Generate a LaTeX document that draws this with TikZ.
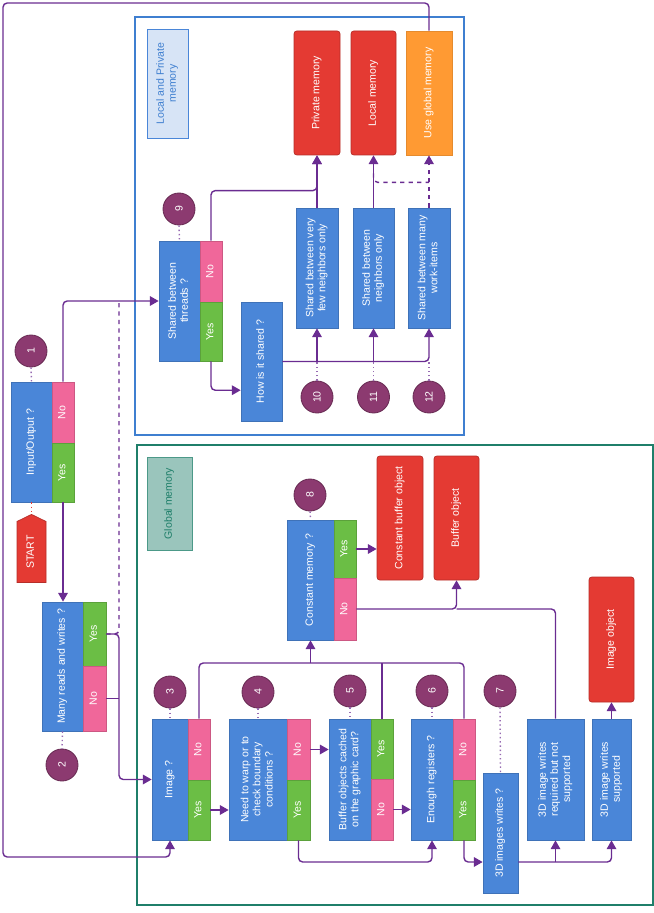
\documentclass[tikz,border=0pt]{standalone}
\usepackage{fontspec}
\setmainfont{Liberation Sans}
\usepackage{graphicx}
\usetikzlibrary{arrows.meta, calc, shapes.symbols}
\definecolor{qblue}{HTML}{4A86D8}
\definecolor{nopink}{HTML}{F0679A}
\definecolor{yesgreen}{HTML}{6BBE45}
\definecolor{endred}{HTML}{E43A33}
\definecolor{altorange}{HTML}{FF9A33}
\definecolor{tagplum}{HTML}{8C3A70}
\definecolor{flowpurple}{HTML}{6A2C91}
\definecolor{lpblue}{HTML}{3F7FD0}
\definecolor{gmteal}{HTML}{1F7F6A}
\newcommand{\vtext}[1]{\rotatebox{90}{\begin{tabular}{@{}c@{}}#1\end{tabular}}}
\tikzset{
    cell/.style n args={4}{at={({(#1+#3)/2},{(#2+#4)/2})}, minimum width={(#3-#1)*0.25mm}, minimum height={(#4-#2)*0.25mm}},
    qbox/.style={draw=qblue!85!black, fill=qblue, text=white, inner sep=0pt, line width=0.5pt},
    nobox/.style={qbox, draw=nopink!85!black, fill=nopink},
    yesbox/.style={qbox, draw=yesgreen!85!black, fill=yesgreen},
    endbox/.style={qbox, draw=endred!80!black, fill=endred, rounded corners=2pt},
    altbox/.style={qbox, draw=altorange!90!black, fill=altorange},
    tag/.style={circle, draw=tagplum!75!black, fill=tagplum, text=white, minimum size=8mm, inner sep=0pt, line width=0.6pt},
    flow/.style={draw=flowpurple, line width=1pt, rounded corners=3pt, -{Triangle[length=2.2mm,width=2.4mm]}},
    link/.style={draw=flowpurple, line width=1pt, rounded corners=3pt},
    altflow/.style={flow, dashed},
    altlink/.style={link, dashed},
    dots/.style={draw=flowpurple!70, line width=1pt, dotted},
    zone/.style={line width=0.8pt, inner sep=0pt}
}
\begin{document}
\begin{tikzpicture}[x=0.25mm, y=-0.25mm, font=\fontsize{7.5}{8.6}\selectfont]
    \useasboundingbox (0,0) rectangle (654,913);
    % containers
    \node[zone, draw=lpblue, cell={135}{17}{464}{435}] (lpzone) {};
    \node[zone, draw=gmteal, cell={137}{445}{653}{905}] (gmzone) {};
    \node[zone, draw=qblue, fill=qblue!22, text=lpblue, line width=0.6pt, cell={147}{29}{188}{138}] (lptag) {\vtext{Local and Private\\memory}};
    \node[zone, draw=gmteal!80, fill=gmteal!45, text=gmteal, line width=0.6pt, cell={147}{457}{192}{550}] (gmtag) {\vtext{Global memory}};

    % questions
    \node[qbox, cell={11}{382}{52}{502}] (q1) {\vtext{Input/Output ?}};
    \node[nobox, cell={52}{382}{74}{443}] (q1no) {\vtext{No}};
    \node[yesbox, cell={52}{443}{74}{502}] (q1yes) {\vtext{Yes}};
    \node[qbox, cell={42}{602}{83}{731}] (q2) {\vtext{Many reads and writes ?}};
    \node[yesbox, cell={83}{602}{106}{666}] (q2yes) {\vtext{Yes}};
    \node[nobox, cell={83}{666}{106}{731}] (q2no) {\vtext{No}};
    \node[qbox, cell={152}{719}{188}{840}] (q3) {\vtext{Image ?}};
    \node[nobox, cell={188}{719}{210}{780}] (q3no) {\vtext{No}};
    \node[yesbox, cell={188}{780}{210}{840}] (q3yes) {\vtext{Yes}};
    \node[qbox, cell={229}{719}{287}{840}] (q4) {\vtext{Need to warp or to\\check boundary\\conditions ?}};
    \node[nobox, cell={287}{719}{310}{780}] (q4no) {\vtext{No}};
    \node[yesbox, cell={287}{780}{310}{840}] (q4yes) {\vtext{Yes}};
    \node[qbox, cell={329}{719}{371}{840}] (q5) {\vtext{Buffer objects cached\\on the graphic card?}};
    \node[yesbox, cell={371}{719}{393}{779}] (q5yes) {\vtext{Yes}};
    \node[nobox, cell={371}{779}{393}{840}] (q5no) {\vtext{No}};
    \node[qbox, cell={411}{719}{453}{840}] (q6) {\vtext{Enough registers ?}};
    \node[nobox, cell={453}{719}{475}{780}] (q6no) {\vtext{No}};
    \node[yesbox, cell={453}{780}{475}{840}] (q6yes) {\vtext{Yes}};
    \node[qbox, cell={483}{773}{518}{893}] (q7) {\vtext{3D images writes ?}};
    \node[qbox, cell={527}{719}{584}{840}] (q7a) {\vtext{3D image writes\\required but not\\supported}};
    \node[qbox, cell={592}{719}{631}{840}] (q7b) {\vtext{3D image writes\\supported}};
    \node[qbox, cell={287}{520}{334}{640}] (q8) {\vtext{Constant memory ?}};
    \node[yesbox, cell={334}{520}{356}{578}] (q8yes) {\vtext{Yes}};
    \node[nobox, cell={334}{578}{356}{640}] (q8no) {\vtext{No}};
    \node[qbox, cell={159}{241}{200}{361}] (q9) {\vtext{Shared between\\threads ?}};
    \node[nobox, cell={200}{241}{222}{302}] (q9no) {\vtext{No}};
    \node[yesbox, cell={200}{302}{222}{361}] (q9yes) {\vtext{Yes}};
    \node[qbox, cell={241}{302}{282}{421}] (hw) {\vtext{How is it shared ?}};
    \node[qbox, cell={296}{208}{338}{328}] (s1) {\vtext{Shared between very\\few neighbors only}};
    \node[qbox, cell={353}{208}{394}{328}] (s2) {\vtext{Shared between\\neighbors only}};
    \node[qbox, cell={408}{208}{450}{328}] (s3) {\vtext{Shared between many\\work-items}};

    % outcomes
    \node[endbox, cell={294}{31}{340}{155}] (pm) {\vtext{Private memory}};
    \node[endbox, cell={351}{31}{396}{155}] (lm) {\vtext{Local memory}};
    \node[altbox, cell={406}{31}{452}{155}] (gm) {\vtext{Use global memory}};
    \node[endbox, cell={377}{456}{423}{580}] (cbo) {\vtext{Constant buffer object}};
    \node[endbox, cell={434}{456}{479}{580}] (bo) {\vtext{Buffer object}};
    \node[endbox, cell={589}{577}{634}{702}] (io) {\vtext{Image object}};
    \node[endbox, shape=signal, signal to=north, signal pointer angle=128, rounded corners=0pt,
          minimum width=7.25mm, minimum height=16mm] (start) at (31.5,552) {\vtext{START}};

    % step numbers
    \node[tag] (c1) at (31,351) {\rotatebox{90}{1}};
    \node[tag] (c2) at (62,765) {\rotatebox{90}{2}};
    \node[tag] (c3) at (170,692) {\rotatebox{90}{3}};
    \node[tag] (c4) at (258,692) {\rotatebox{90}{4}};
    \node[tag] (c5) at (350,691) {\rotatebox{90}{5}};
    \node[tag] (c6) at (432,691) {\rotatebox{90}{6}};
    \node[tag] (c7) at (500,691) {\rotatebox{90}{7}};
    \node[tag] (c8) at (310,495) {\rotatebox{90}{8}};
    \node[tag] (c9) at (179,209) {\rotatebox{90}{9}};
    \node[tag] (c10) at (317,397) {\rotatebox{90}{10}};
    \node[tag] (c11) at (373.5,397) {\rotatebox{90}{11}};
    \node[tag] (c12) at (429,397) {\rotatebox{90}{12}};

    \coordinate (rim) at (3,3);
    \coordinate (rimlow) at (3,857);
    \coordinate (jmp) at (119,0);
    \coordinate (bus) at (0,663);
    \coordinate (low) at (0,862);

    % dotted tags
    \draw[dots] (c1.south) -- (q1.north);
    \draw[dots] (q2.south) -- (c2.north);
    \draw[dots] (c3.south) -- (q3.north);
    \draw[dots] (c4.south) -- (q4.north);
    \draw[dots] (c5.south) -- (q5.north);
    \draw[dots] (c6.south) -- (q6.north);
    \draw[dots] (c7.south) -- (q7.north);
    \draw[dots] (c8.south) -- (q8.north);
    \draw[dots] (c9.south) -- (q9.north);
    \draw[dots] (c10.north) -- (c10.north |- hw.east);
    \draw[dots] (c11.north) -- (c11.north |- hw.east);
    \draw[dots] (c12.north) -- (c12.north |- hw.east);
    \draw[dots, draw=endred] (q1.south) -- (start.north);

    % flow
    \draw[flow] (q1yes.south) -- (q1yes.south |- q2.north);
    \draw[flow] (q1no.north) |- (q9.west);
    \draw[altlink] (q2yes.east) -| (jmp |- q9.west);
    \draw[flow] (q2yes.east) -| (jmp |- q3.west) -- (q3.west);
    \draw[link] (q2no.east) -- (jmp |- q2no.east);
    \draw[flow] (gm.north) |- (rim) -- (rimlow) -| (q3.south);

    \draw[link] (q3no.north) |- (bus -| q6no.north) -- (q6no.north);
    \draw[link] (q5yes.north) -- (q5yes.north |- bus);
    \draw[flow] (q8.south |- bus) -- (q8.south);
    \draw[flow] (q3yes.east) -- (q3yes.east -| q4.west);
    \draw[flow] (q4no.east) -- (q4no.east -| q5.west);
    \draw[flow] (q5no.east) -- (q5no.east -| q6.west);
    \draw[flow] (q4yes.south) |- (low -| q6.south) -- (q6.south);
    \draw[flow] (q6yes.south) |- (q7.west |- low);
    \draw[flow] (q7.east |- low) -| (q7b.south);
    \draw[flow] (q7a.south |- low) -- (q7a.south);
    \draw[flow] (q7b.north) -- (io.south);
    \draw[link] (q7a.north) |- (bo.south |- q8no.east);
    \draw[flow] (q8no.east) -| (bo.south);
    \draw[flow] (q8yes.east) -- (q8yes.east -| cbo.west);

    \draw[flow] (q9no.north) -- ++(0,-50) -| (pm.south);
    \draw[flow] (q9yes.south) |- ($(hw.south west)!0.26!(hw.north west)$);
    \draw[flow] (hw.east) -| (s3.south);
    \draw[flow] (s1.south |- hw.east) -- (s1.south);
    \draw[flow] (s2.south |- hw.east) -- (s2.south);
    \draw[flow] (s1.north) -- (s1.north |- pm.south);
    \draw[flow] (s2.north) -- (lm.south);
    \draw[altflow] (s3.north) -- (gm.south);
    \draw[altlink] ($(lm.south)+(0,18)$) |- ($(gm.south)+(0,27)$);
\end{tikzpicture}
\end{document}
